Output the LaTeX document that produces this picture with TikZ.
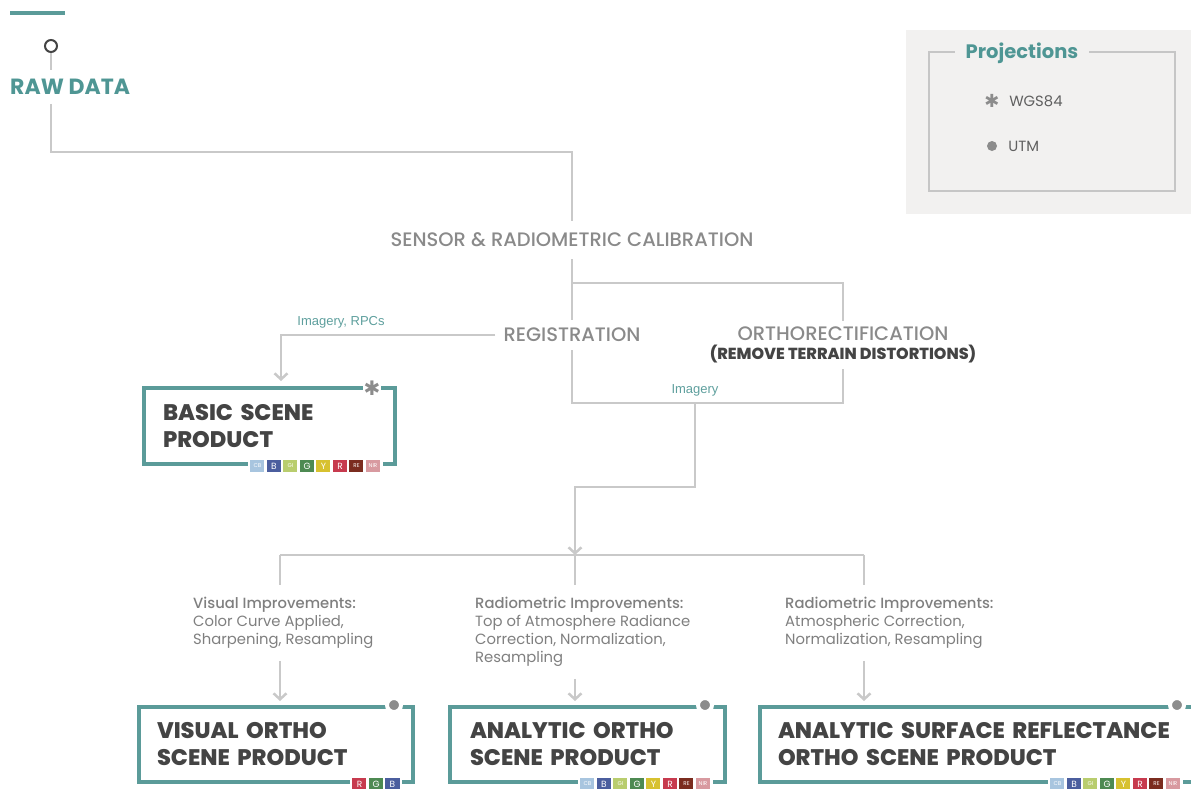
\documentclass[tikz,border=0pt]{standalone}
\usepackage{fontspec}
\setmainfont{Poppins}
\newfontfamily\medfont{Poppins Medium}
\newfontfamily\heavyfont{Poppins ExtraBold}
\newfontfamily\labelfont{Liberation Sans}
\newfontfamily\symbolfont{DejaVu Sans}
\usetikzlibrary{arrows.meta, positioning, calc}

\definecolor{boxteal}{HTML}{5B9B99}
\definecolor{titleteal}{HTML}{4F9694}
\definecolor{labelteal}{HTML}{5E9F9D}
\definecolor{linegray}{HTML}{C9C9C9}
\definecolor{stagegray}{HTML}{8A8A8A}
\definecolor{darktext}{HTML}{444444}
\definecolor{notegray}{HTML}{7F7F7F}
\definecolor{dotgray}{HTML}{8C8C8C}
\definecolor{legendbg}{HTML}{F2F1F0}
\definecolor{legendline}{HTML}{C6C6C6}
% spectral band colours
\definecolor{chipcb}{HTML}{A8C5DF}
\definecolor{chipb}{HTML}{4B5E9E}
\definecolor{chipgi}{HTML}{B9CD6E}
\definecolor{chipg}{HTML}{4D8A52}
\definecolor{chipy}{HTML}{D7C12F}
\definecolor{chipr}{HTML}{C73A4E}
\definecolor{chipre}{HTML}{7B2C1F}
\definecolor{chipnir}{HTML}{D89AA0}

\newcommand{\bandrow}[3]{%
  \foreach \lab/\col/\sz [count=\i from 0] in {#3}
    \node[chip=\col, font=\fontsize{\sz}{\sz}\selectfont] at ($(#1)+(#2+\i*16.5,0)$) {\lab};}

\begin{document}
\begin{tikzpicture}[
    x=1pt, y=-1pt,
    font=\fontsize{14.8}{18}\selectfont,
    >={Straight Barb[length=6pt, width=13pt]},
    conn/.style={draw=linegray, line width=2.5pt},
    arrow/.style={conn, ->, shorten >=5pt},
    stage/.style={text=stagegray, font=\medfont\fontsize{19.5}{19.5}\selectfont, inner sep=8pt, align=center},
    prodbox/.style={rectangle, draw=boxteal, line width=4pt, align=left, text=darktext, font=\heavyfont\fontsize{22.5}{27}\selectfont, inner ysep=0pt},
    note/.style={anchor=north west, inner xsep=0pt, inner ysep=12pt, align=left, text=notegray},
    flowlabel/.style={text=labelteal, font=\labelfont\fontsize{13}{15}\selectfont},
    chip/.style={rectangle, fill=#1, draw=white, line width=2.5pt, minimum width=17pt, minimum height=15pt, inner sep=0pt, text=white},
    dot/.style={circle, fill=dotgray, draw=white, line width=4pt, minimum size=14pt, inner sep=0pt},
]
    \useasboundingbox (0,0) rectangle (1191,788);

    % Legend
    \fill[legendbg] (906,30) rectangle (1195,214);
    \node[draw=legendline, line width=2.5pt, minimum width=246pt, minimum height=139pt] (legend) at (1052,121.5) {};
    \node[fill=legendbg, text=titleteal, font=\bfseries\fontsize{19.5}{19.5}\selectfont, inner xsep=11pt] (legend_title) at (1022,53) {Projections};
    \node[text=dotgray, font=\symbolfont\fontsize{18}{18}\selectfont] (wgs_mark) at (992,101) {✱};
    \node[right=6pt of wgs_mark, text=darktext!85, inner xsep=0pt] (wgs_text) {WGS84};
    \node[circle, fill=dotgray, minimum size=10pt, inner sep=0pt] (utm_mark) at (992,146) {};
    \node[right=11pt of utm_mark, text=darktext!85, inner xsep=0pt] (utm_text) {UTM};

    % Raw data
    \draw[boxteal, line width=4pt] (10,13) -- (65,13);
    \node[circle, draw=darktext, line width=2pt, fill=white, minimum size=12pt, inner sep=0pt] (raw_dot) at (51,46) {};
    \node[anchor=west, text=titleteal, font=\bfseries\fontsize{22}{22}\selectfont, inner xsep=0pt, inner ysep=9pt] (raw) at (10,87) {RAW DATA};
    \draw[conn] (raw_dot) -- (raw_dot |- raw.north);

    % Processing stages
    \node[stage, inner ysep=12pt] (calib) at (572,240) {SENSOR \& RADIOMETRIC CALIBRATION};
    \node[stage] (reg) at (572,335) {REGISTRATION};
    \node[stage, inner ysep=5pt] (ortho) at (843,345) {ORTHORECTIFICATION\\{\bfseries\color{darktext}\fontsize{16}{16}\selectfont (REMOVE TERRAIN DISTORTIONS)}};

    \coordinate (top_bend) at (572,152);
    \draw[conn] (raw_dot |- raw.south) |- (top_bend) -- (calib.north);
    \draw[conn] (calib) -- (reg);
    \coordinate (branch) at (572,283);
    \draw[conn] (branch) -| (ortho.north);

    % Products
    \node[prodbox, minimum width=251pt, minimum height=76pt, text width=213pt, inner xsep=19pt] (basic) at (269.5,426) {BASIC SCENE\\PRODUCT};
    \node[prodbox, minimum width=274pt, minimum height=75pt, text width=238pt, inner xsep=18pt] (visual) at (276,744.5) {VISUAL ORTHO\\SCENE PRODUCT};
    \node[prodbox, minimum width=275pt, minimum height=75pt, text width=235pt, inner xsep=20pt] (analytic) at (587.5,744.5) {ANALYTIC ORTHO\\SCENE PRODUCT};
    \node[prodbox, minimum width=435pt, minimum height=75pt, text width=399pt, inner xsep=18pt] (surface) at (977.5,744.5) {ANALYTIC SURFACE REFLECTANCE\\ORTHO SCENE PRODUCT};

    \draw[arrow] (reg.west) -| node[flowlabel, above=2pt, pos=0.36] {Imagery, RPCs} ([xshift=11.5pt]basic.north);

    \coordinate (merge) at (695,403);
    \draw[conn] (reg.south) |- (merge) -| (ortho.south);
    \node[flowlabel, above=3pt] (imagery_label) at (merge) {Imagery};

    \coordinate (fanout) at (575,555);
    \coordinate (fan_left) at (280,555);
    \coordinate (fan_right) at (864,555);
    \draw[conn] (fan_left) -- (fan_right);
    \draw[conn, ->] (merge) |- ([yshift=68pt]fanout) -- (fanout);

    % Improvement notes
    \node[note] (vis_note) at (193,585) {{\medfont Visual Improvements:}\\Color Curve Applied,\\Sharpening, Resampling};
    \node[note] (toa_note) at (475,585) {{\medfont Radiometric Improvements:}\\Top of Atmosphere Radiance\\Correction, Normalization,\\Resampling};
    \node[note] (sr_note) at (785,585) {{\medfont Radiometric Improvements:}\\Atmospheric Correction,\\Normalization, Resampling};

    \draw[conn] (fan_left) -- (fan_left |- vis_note.north);
    \draw[conn] (fanout) -- (fanout |- toa_note.north);
    \draw[conn] (fan_right) -- (fan_right |- sr_note.north);
    \draw[arrow, shorten >=4pt] (fan_left |- vis_note.south) -- (fan_left |- visual.north);
    \draw[arrow, shorten >=4pt] (fanout |- toa_note.south) -- (fanout |- analytic.north);
    \draw[arrow, shorten >=4pt] (fan_right |- sr_note.south) -- (fan_right |- surface.north);

    % Projection marks and bands
    \node[fill=white, text=dotgray, font=\symbolfont\fontsize{20}{20}\selectfont, inner sep=1pt] (basic_mark) at ([xshift=-25pt, yshift=-2pt]basic.north east) {✱};
    \node[dot] (visual_dot) at ([xshift=-21pt]visual.north east) {};
    \node[dot] (analytic_dot) at ([xshift=-22pt]analytic.north east) {};
    \node[dot] (surface_dot) at ([xshift=-20pt]surface.north east) {};

    \bandrow{basic.south east}{-139.5}{CB/chipcb/5.5, B/chipb/9, GI/chipgi/5.5, G/chipg/9, Y/chipy/9, R/chipr/9, RE/chipre/5.5, NIR/chipnir/5.5}
    \bandrow{visual.south east}{-55.5}{R/chipr/9, G/chipg/9, B/chipb/9}
    \bandrow{analytic.south east}{-139.5}{CB/chipcb/5.5, B/chipb/9, GI/chipgi/5.5, G/chipg/9, Y/chipy/9, R/chipr/9, RE/chipre/5.5, NIR/chipnir/5.5}
    \bandrow{surface.south east}{-139.5}{CB/chipcb/5.5, B/chipb/9, GI/chipgi/5.5, G/chipg/9, Y/chipy/9, R/chipr/9, RE/chipre/5.5, NIR/chipnir/5.5}

\end{tikzpicture}
\end{document}
